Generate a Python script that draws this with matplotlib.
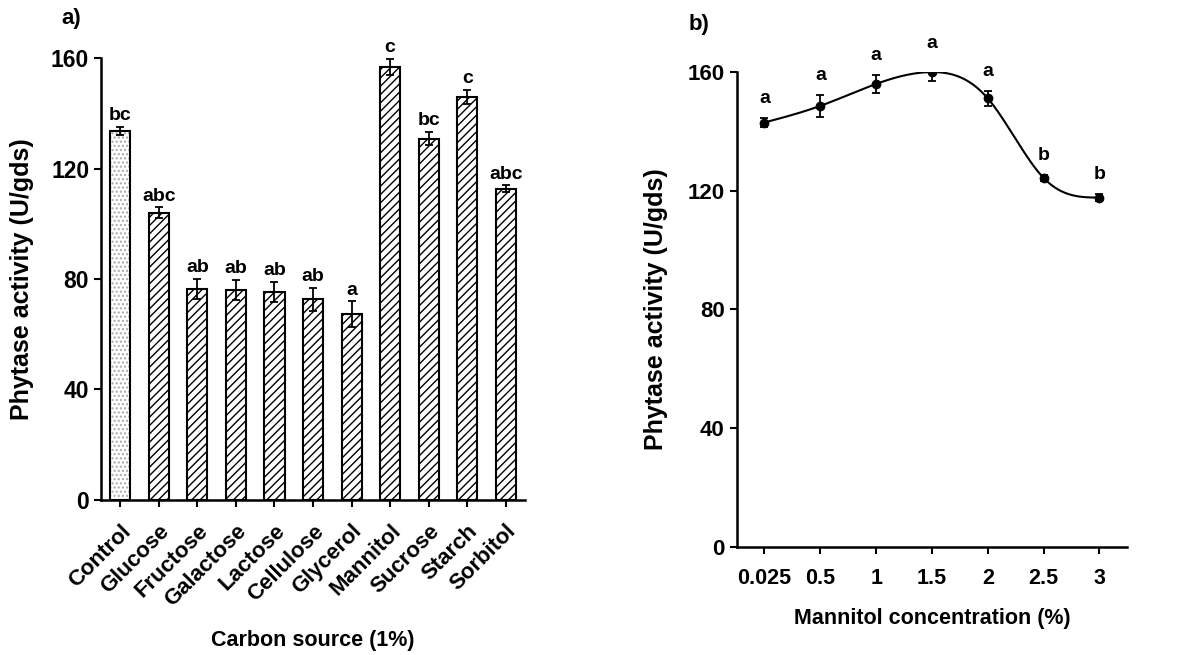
import numpy as np
import matplotlib
matplotlib.use('Agg')
import matplotlib.pyplot as plt

plt.rcParams['font.family'] = ['Liberation Sans', 'DejaVu Sans']
plt.rcParams['font.weight'] = 'bold'
plt.rcParams['hatch.linewidth'] = 1.0

# a) carbon source screening
carbon_sources = ['Control', 'Glucose', 'Fructose', 'Galactose', 'Lactose', 'Cellulose',
                  'Glycerol', 'Mannitol', 'Sucrose', 'Starch', 'Sorbitol']
carbon_activity = [133.6, 104.0, 76.4, 76.0, 75.4, 72.6, 67.3, 156.9, 130.9, 146.1, 112.7]
carbon_err = [1.5, 2.0, 3.6, 3.6, 3.6, 4.2, 4.6, 3.0, 2.3, 2.5, 1.2]
carbon_letters = ['bc', 'abc', 'ab', 'ab', 'ab', 'ab', 'a', 'c', 'bc', 'c', 'abc']

# b) mannitol concentration
mannitol_conc = ['0.025', '0.5', '1', '1.5', '2', '2.5', '3']
mannitol_activity = [143.0, 148.6, 156.0, 160.0, 151.1, 124.3, 117.7]
mannitol_err = [1.5, 3.7, 2.9, 3.0, 2.6, 1.0, 1.3]
mannitol_letters = ['a', 'a', 'a', 'a', 'a', 'b', 'b']


def natural_spline(x, y, n=300):
    # natural cubic spline through (x, y)
    x = np.asarray(x, float)
    y = np.asarray(y, float)
    m = len(x)
    h = np.diff(x)
    A = np.zeros((m, m))
    r = np.zeros(m)
    A[0, 0] = A[-1, -1] = 1
    for i in range(1, m - 1):
        A[i, i - 1] = h[i - 1]
        A[i, i] = 2 * (h[i - 1] + h[i])
        A[i, i + 1] = h[i]
        r[i] = 6 * ((y[i + 1] - y[i]) / h[i] - (y[i] - y[i - 1]) / h[i - 1])
    M = np.linalg.solve(A, r)
    xs = np.linspace(x[0], x[-1], n)
    k = np.clip(np.searchsorted(x, xs) - 1, 0, m - 2)
    t0 = xs - x[k]
    t1 = x[k + 1] - xs
    hk = h[k]
    ys = (M[k] * t1**3 + M[k + 1] * t0**3) / (6 * hk) \
        + (y[k] / hk - M[k] * hk / 6) * t1 + (y[k + 1] / hk - M[k + 1] * hk / 6) * t0
    return xs, ys


def style_axes(ax, ysize):
    for s in ['top', 'right']:
        ax.spines[s].set_visible(False)
    for s in ['left', 'bottom']:
        ax.spines[s].set_linewidth(1.8)
    ax.tick_params(axis='both', direction='out', width=1.5, length=5)
    ax.tick_params(axis='y', labelsize=ysize)
    ax.set_ylim(0, 160)
    ax.set_yticks([0, 40, 80, 120, 160])


fig = plt.figure(figsize=(11.88, 6.55), dpi=100)

# panel a
ax1 = fig.add_axes([0.085, 0.237, 0.357, 0.674])
xa = np.arange(len(carbon_sources))
width = 0.52
# control bar: light grey dotted fill
ax1.bar(xa[0], carbon_activity[0], width, color='white', edgecolor='#a8a8a8',
        hatch='....', linewidth=0, zorder=2)
ax1.bar(xa[0], carbon_activity[0], width, color='none', edgecolor='black',
        linewidth=1.5, zorder=3)
ax1.bar(xa[1:], carbon_activity[1:], width, color='white', edgecolor='black',
        hatch='////', linewidth=1.5, zorder=2)
ax1.errorbar(xa, carbon_activity, yerr=carbon_err, fmt='none', ecolor='black',
             elinewidth=1.3, capsize=3, capthick=1.3, zorder=4)
for xi, v, e, lab in zip(xa, carbon_activity, carbon_err, carbon_letters):
    ax1.annotate(lab, (xi, v + e), xytext=(0, 2), textcoords='offset points',
                 ha='center', va='bottom', fontsize=14, fontweight='bold',
                 annotation_clip=False)
ax1.set_xlim(-0.5, len(carbon_sources) - 0.5)
ax1.set_xticks(xa)
ax1.set_xticklabels(carbon_sources, rotation=45, ha='right', rotation_mode='anchor',
                    fontsize=16, fontweight='bold')
style_axes(ax1, 16.5)
ax1.tick_params(axis='x', pad=10)
ax1.set_ylabel('Phytase activity (U/gds)', fontsize=18, fontweight='bold', labelpad=12)
ax1.set_xlabel('Carbon source (1%)', fontsize=15.5, fontweight='bold', labelpad=14)
ax1.text(-0.07, 1.09, 'a)', transform=ax1.transAxes, fontsize=16, fontweight='bold',
         ha='center', va='center')

# panel b
ax2 = fig.add_axes([0.620, 0.165, 0.329, 0.725])
xb = np.arange(len(mannitol_conc))
xs, ys = natural_spline(xb, mannitol_activity)
ax2.plot(xs, ys, color='black', linewidth=1.5, zorder=2)
ax2.errorbar(xb, mannitol_activity, yerr=mannitol_err, fmt='o', color='black',
             markersize=6, elinewidth=1.3, capsize=3, capthick=1.3, zorder=3)
for xi, v, e, lab in zip(xb, mannitol_activity, mannitol_err, mannitol_letters):
    ax2.annotate(lab, (xi, v + e), xytext=(0, 8), textcoords='offset points',
                 ha='center', va='bottom', fontsize=14, fontweight='bold',
                 annotation_clip=False)
ax2.set_xlim(-0.5, len(mannitol_conc) - 0.5)
ax2.set_xticks(xb)
ax2.set_xticklabels(mannitol_conc, fontsize=15.5, fontweight='bold')
style_axes(ax2, 16)
ax2.tick_params(axis='x', pad=10)
ax2.set_ylabel('Phytase activity (U/gds)', fontsize=18, fontweight='bold', labelpad=14)
ax2.set_xlabel('Mannitol concentration (%)', fontsize=15.5, fontweight='bold', labelpad=14)
ax2.text(-0.095, 1.10, 'b)', transform=ax2.transAxes, fontsize=16, fontweight='bold',
         ha='center', va='center')

fig.savefig('out.png', dpi=100)
